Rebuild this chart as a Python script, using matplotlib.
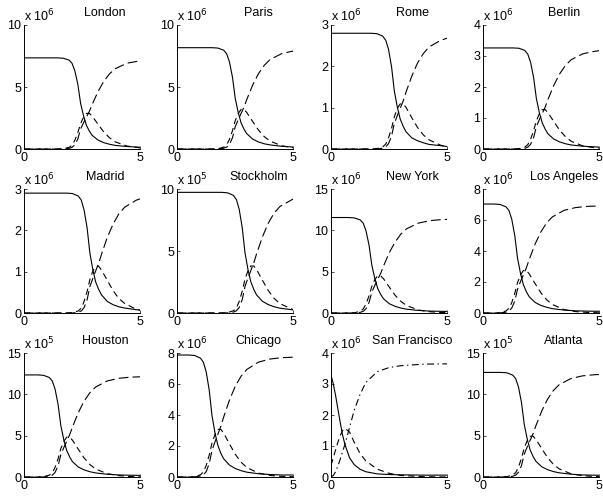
import numpy as np
import matplotlib
matplotlib.use('Agg')
import matplotlib.pyplot as plt

plt.rcParams['font.family'] = ['Liberation Sans', 'DejaVu Sans']
plt.rcParams['font.size'] = 9
plt.rcParams['lines.scale_dashes'] = False

# city panels, in reading order (3 rows x 4 columns)
cities = ['London', 'Paris', 'Rome', 'Berlin',
          'Madrid', 'Stockholm', 'New York', 'Los Angeles',
          'Houston', 'Chicago', 'San Francisco', 'Atlanta']
exponents = [6, 6, 6, 6, 6, 5, 6, 6, 5, 6, 6, 5]
y_max = [10, 10, 3, 4, 3, 10, 15, 8, 15, 8, 4, 15]
y_step = [5, 5, 1, 1, 1, 5, 5, 2, 5, 2, 1, 5]

# time points, one list per city
times = [
    [0, 1.44, 1.69, 1.94, 2.07, 2.19, 2.32, 2.44, 2.57, 2.69, 2.82, 2.94, 3.19, 3.44, 3.69, 3.94, 4.44, 5],
    [0, 1.51, 1.76, 2.01, 2.14, 2.26, 2.39, 2.51, 2.64, 2.76, 2.89, 3.01, 3.26, 3.51, 3.76, 4.01, 4.51, 5],
    [0, 1.73, 1.98, 2.23, 2.36, 2.48, 2.61, 2.73, 2.86, 2.98, 3.11, 3.23, 3.48, 3.73, 3.98, 4.23, 4.73, 5],
    [0, 1.30, 1.55, 1.80, 1.93, 2.05, 2.18, 2.30, 2.43, 2.55, 2.68, 2.80, 3.05, 3.30, 3.55, 3.80, 4.30, 4.80, 5],
    [0, 1.84, 2.09, 2.34, 2.47, 2.59, 2.72, 2.84, 2.97, 3.09, 3.22, 3.34, 3.59, 3.84, 4.09, 4.34, 4.84, 5],
    [0, 1.93, 2.18, 2.43, 2.56, 2.68, 2.81, 2.93, 3.06, 3.18, 3.31, 3.43, 3.68, 3.93, 4.18, 4.43, 5],
    [0, 0.76, 1.01, 1.26, 1.39, 1.51, 1.64, 1.76, 1.89, 2.01, 2.14, 2.26, 2.51, 2.76, 3.01, 3.26, 3.76, 4.26, 4.76, 5],
    [0, 0.49, 0.74, 0.99, 1.12, 1.24, 1.37, 1.49, 1.62, 1.74, 1.87, 1.99, 2.24, 2.49, 2.74, 2.99, 3.49, 3.99, 4.49, 5],
    [0, 0.59, 0.84, 1.09, 1.22, 1.34, 1.47, 1.59, 1.72, 1.84, 1.97, 2.09, 2.34, 2.59, 2.84, 3.09, 3.59, 4.09, 4.59, 5],
    [0, 0.51, 0.76, 1.01, 1.14, 1.26, 1.39, 1.51, 1.64, 1.76, 1.89, 2.01, 2.26, 2.51, 2.76, 3.01, 3.51, 4.01, 4.51, 5],
    [0, 0.1, 0.2, 0.3, 0.4, 0.5, 0.6, 0.8, 1.0, 1.25, 1.5, 2.0, 2.5, 3.0, 4.0, 5.0],
    [0, 0.78, 1.03, 1.28, 1.41, 1.53, 1.66, 1.78, 1.91, 2.03, 2.16, 2.28, 2.53, 2.78, 3.03, 3.28, 3.78, 4.28, 4.78, 5],
]

# susceptible (solid), in units of 10^exponent
susceptible = [
    [7.35, 7.35, 7.32, 7.17, 6.91, 6.32, 5.22, 3.68, 2.65, 1.91, 1.43, 1.10, 0.72, 0.51, 0.38, 0.29, 0.20, 0.14],
    [8.17, 8.17, 8.14, 7.97, 7.68, 7.03, 5.80, 4.09, 2.94, 2.12, 1.59, 1.23, 0.80, 0.57, 0.42, 0.33, 0.22, 0.16],
    [2.80, 2.80, 2.79, 2.73, 2.63, 2.41, 1.99, 1.40, 1.01, 0.73, 0.55, 0.42, 0.27, 0.20, 0.15, 0.11, 0.08, 0.06],
    [3.26, 3.26, 3.25, 3.18, 3.06, 2.80, 2.31, 1.63, 1.17, 0.85, 0.64, 0.49, 0.32, 0.23, 0.17, 0.13, 0.09, 0.07, 0.06],
    [2.90, 2.90, 2.89, 2.83, 2.73, 2.49, 2.06, 1.45, 1.04, 0.75, 0.57, 0.44, 0.28, 0.20, 0.15, 0.12, 0.08, 0.07],
    [9.73, 9.73, 9.69, 9.49, 9.15, 8.37, 6.91, 4.87, 3.50, 2.53, 1.90, 1.46, 0.95, 0.68, 0.51, 0.39, 0.25],
    [11.55, 11.55, 11.50, 11.26, 10.86, 9.93, 8.20, 5.78, 4.16, 3.00, 2.25, 1.73, 1.13, 0.81, 0.60, 0.46, 0.31, 0.23, 0.20, 0.19],
    [7.03, 7.03, 7.00, 6.85, 6.61, 6.05, 4.99, 3.52, 2.53, 1.83, 1.37, 1.05, 0.69, 0.49, 0.37, 0.28, 0.19, 0.14, 0.12, 0.11],
    [12.35, 12.35, 12.30, 12.04, 11.61, 10.62, 8.77, 6.18, 4.45, 3.21, 2.41, 1.85, 1.21, 0.86, 0.64, 0.49, 0.33, 0.25, 0.21, 0.20],
    [7.87, 7.87, 7.84, 7.67, 7.40, 6.77, 5.59, 3.94, 2.83, 2.05, 1.53, 1.18, 0.77, 0.55, 0.41, 0.31, 0.21, 0.16, 0.13, 0.13],
    [3.29, 3.00, 2.62, 2.18, 1.75, 1.35, 1.05, 0.62, 0.40, 0.25, 0.17, 0.10, 0.08, 0.07, 0.06, 0.06],
    [12.65, 12.65, 12.60, 12.33, 11.89, 10.88, 8.98, 6.33, 4.55, 3.29, 2.47, 1.90, 1.24, 0.89, 0.66, 0.51, 0.34, 0.25, 0.22, 0.21],
]

# infected (short dashes)
infected = [
    [0, 0, 0.02, 0.13, 0.31, 0.70, 1.32, 2.06, 2.57, 2.87, 2.87, 2.65, 2.00, 1.37, 0.90, 0.57, 0.24, 0.09],
    [0, 0, 0.02, 0.15, 0.34, 0.78, 1.47, 2.29, 2.86, 3.19, 3.19, 2.94, 2.22, 1.53, 1.00, 0.64, 0.26, 0.11],
    [0, 0, 0.01, 0.05, 0.12, 0.27, 0.50, 0.78, 0.98, 1.09, 1.09, 1.01, 0.76, 0.52, 0.34, 0.22, 0.09, 0.06],
    [0, 0, 0.01, 0.06, 0.14, 0.31, 0.59, 0.91, 1.14, 1.27, 1.27, 1.17, 0.89, 0.61, 0.40, 0.25, 0.10, 0.04, 0.03],
    [0, 0, 0.01, 0.05, 0.12, 0.28, 0.52, 0.81, 1.02, 1.13, 1.13, 1.04, 0.79, 0.54, 0.35, 0.23, 0.09, 0.07],
    [0, 0, 0.03, 0.18, 0.41, 0.92, 1.75, 2.72, 3.41, 3.79, 3.79, 3.50, 2.65, 1.82, 1.19, 0.76, 0.28],
    [0, 0, 0.03, 0.21, 0.49, 1.10, 2.08, 3.23, 4.04, 4.50, 4.50, 4.16, 3.14, 2.16, 1.41, 0.90, 0.37, 0.15, 0.06, 0.04],
    [0, 0, 0.02, 0.13, 0.30, 0.67, 1.27, 1.97, 2.46, 2.74, 2.74, 2.53, 1.91, 1.31, 0.86, 0.55, 0.22, 0.09, 0.04, 0.01],
    [0, 0, 0.04, 0.22, 0.52, 1.17, 2.22, 3.46, 4.32, 4.82, 4.82, 4.45, 3.36, 2.31, 1.51, 0.96, 0.40, 0.16, 0.06, 0.03],
    [0, 0, 0.02, 0.14, 0.33, 0.75, 1.42, 2.20, 2.75, 3.07, 3.07, 2.83, 2.14, 1.47, 0.96, 0.61, 0.25, 0.10, 0.04, 0.02],
    [0.38, 0.62, 0.88, 1.13, 1.34, 1.50, 1.57, 1.45, 1.12, 0.76, 0.52, 0.25, 0.12, 0.05, 0.01, 0.0],
    [0, 0, 0.04, 0.23, 0.53, 1.20, 2.28, 3.54, 4.43, 4.93, 4.93, 4.55, 3.44, 2.37, 1.54, 0.99, 0.40, 0.16, 0.06, 0.04],
]

# recovered (long dashes)
recovered = [
    [0, 0, 0.01, 0.05, 0.13, 0.33, 0.81, 1.62, 2.13, 2.57, 3.05, 3.60, 4.63, 5.46, 6.07, 6.48, 6.92, 7.11],
    [0, 0, 0.01, 0.06, 0.15, 0.37, 0.90, 1.80, 2.37, 2.86, 3.39, 4.00, 5.15, 6.07, 6.75, 7.21, 7.69, 7.90],
    [0, 0, 0.00, 0.02, 0.05, 0.13, 0.31, 0.62, 0.81, 0.98, 1.16, 1.37, 1.76, 2.08, 2.31, 2.47, 2.63, 2.68],
    [0, 0, 0.00, 0.02, 0.06, 0.15, 0.36, 0.72, 0.95, 1.14, 1.35, 1.60, 2.05, 2.42, 2.69, 2.88, 3.07, 3.15, 3.17],
    [0, 0, 0.00, 0.02, 0.05, 0.13, 0.32, 0.64, 0.84, 1.02, 1.20, 1.42, 1.83, 2.15, 2.40, 2.56, 2.73, 2.76],
    [0, 0, 0.01, 0.07, 0.18, 0.44, 1.07, 2.14, 2.82, 3.41, 4.04, 4.77, 6.13, 7.23, 8.04, 8.58, 9.19],
    [0, 0, 0.01, 0.08, 0.21, 0.52, 1.27, 2.54, 3.35, 4.04, 4.79, 5.66, 7.28, 8.58, 9.54, 10.19, 10.87, 11.17, 11.30, 11.32],
    [0, 0, 0.01, 0.05, 0.13, 0.32, 0.77, 1.55, 2.04, 2.46, 2.92, 3.44, 4.43, 5.22, 5.81, 6.20, 6.62, 6.80, 6.88, 6.90],
    [0, 0, 0.01, 0.09, 0.22, 0.56, 1.36, 2.72, 3.58, 4.32, 5.13, 6.05, 7.78, 9.18, 10.20, 10.89, 11.62, 11.94, 12.08, 12.12],
    [0, 0, 0.01, 0.06, 0.14, 0.35, 0.87, 1.73, 2.28, 2.75, 3.27, 3.86, 4.96, 5.85, 6.50, 6.94, 7.41, 7.61, 7.70, 7.73],
    [0, 0.05, 0.17, 0.36, 0.58, 0.82, 1.05, 1.60, 2.15, 2.66, 3.05, 3.40, 3.53, 3.59, 3.64, 3.65],
    [0, 0, 0.01, 0.09, 0.23, 0.57, 1.39, 2.78, 3.67, 4.43, 5.25, 6.20, 7.97, 9.40, 10.45, 11.16, 11.90, 12.23, 12.37, 12.40],
]

fig = plt.figure(figsize=(6.03, 4.99), dpi=100)

col_left = [24, 177, 331, 483]   # pixels
row_top = [25, 189, 353]
ax_w, ax_h = 116, 124
W, H = 603, 499

short_dash = (0, (4.5, 3))
long_dash = (0, (7, 3))
dash_dot = (0, (5, 2.5, 1, 2.5))

for k, city in enumerate(cities):
    r, c = divmod(k, 4)
    ax = fig.add_axes([col_left[c] / W, (H - row_top[r] - ax_h) / H, ax_w / W, ax_h / H])

    r_style = dash_dot if city == 'San Francisco' else long_dash
    ax.plot(times[k], susceptible[k], color='black', lw=0.8, ls='-')
    ax.plot(times[k], infected[k], color='black', lw=0.8, ls=short_dash)
    ax.plot(times[k], recovered[k], color='black', lw=0.8, ls=r_style)

    ax.set_xlim(0, 5)
    ax.set_ylim(0, y_max[k])
    ax.set_xticks([0, 5])
    ax.set_yticks(np.arange(0, y_max[k] + 0.01, y_step[k]))

    for side in ['top', 'right']:
        ax.spines[side].set_visible(False)
    for side in ['left', 'bottom']:
        ax.spines[side].set_linewidth(0.7)
    ax.tick_params(direction='in', length=2, width=0.5, labelsize=9, pad=2)

    ax.text(0.7, 1.10, city, transform=ax.transAxes, ha='center', va='center', fontsize=9)
    ax.text(0.0, 1.07, r'x 10$^{%d}$' % exponents[k], transform=ax.transAxes,
            ha='left', va='center', fontsize=9)

fig.savefig('out.png', dpi=100)
